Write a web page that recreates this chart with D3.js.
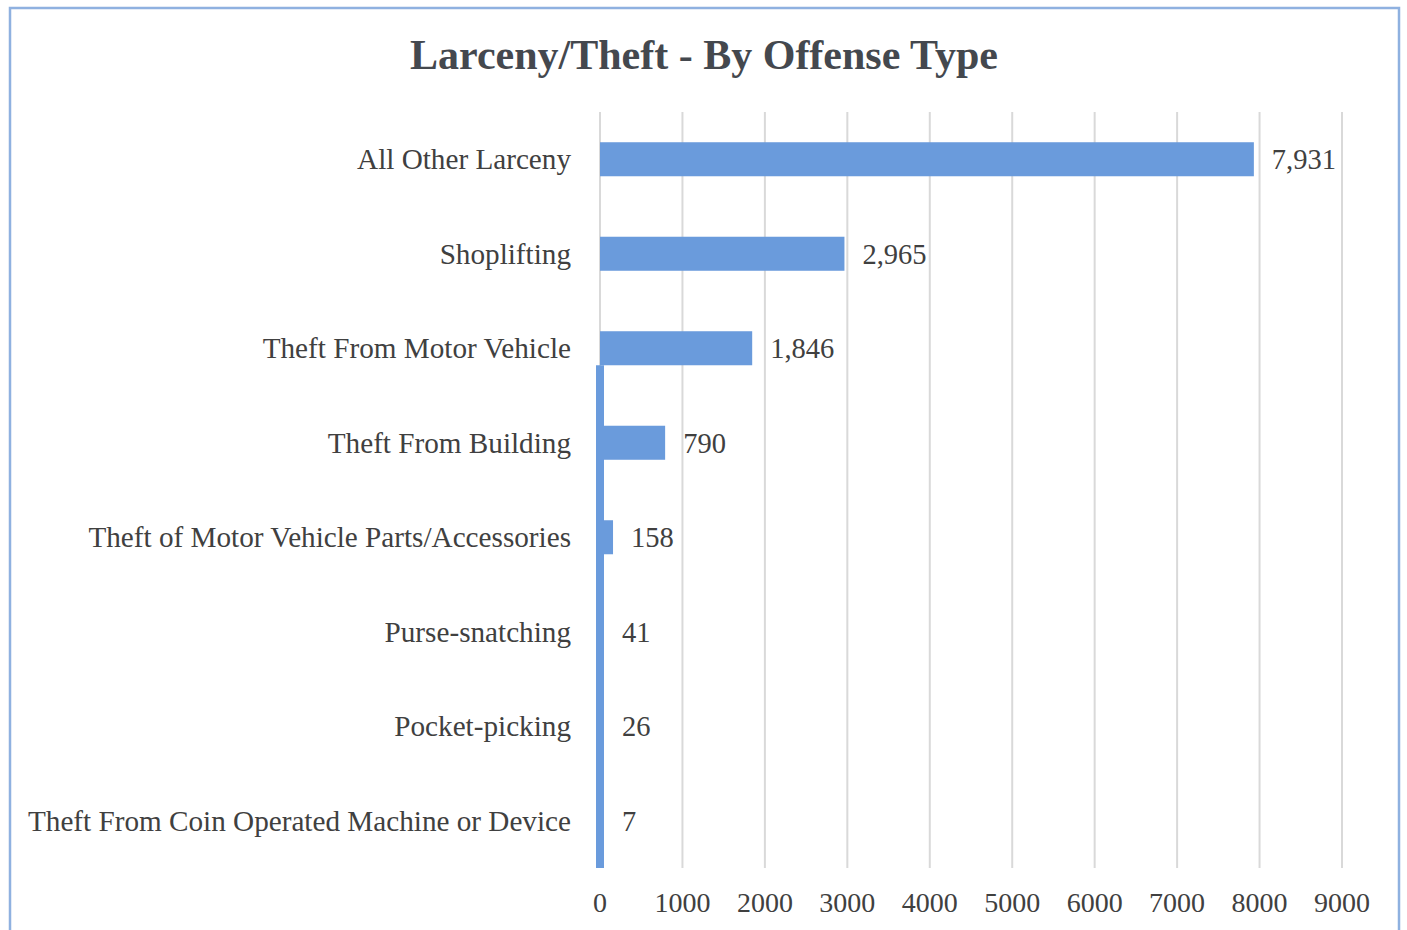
<!DOCTYPE html>
<html>
<head>
<meta charset="utf-8">
<script src="https://cdn.jsdelivr.net/npm/d3@7"></script>
<style>
	body { margin: 0; background: #fff; }
	svg { display: block; font-family: "Liberation Serif", "Times New Roman", serif; }
</style>
</head>
<body>
<svg id="chart"></svg>
<script>
// chart data
const categories = [
	"All Other Larceny",
	"Shoplifting",
	"Theft From Motor Vehicle",
	"Theft From Building",
	"Theft of Motor Vehicle Parts/Accessories",
	"Purse-snatching",
	"Pocket-picking",
	"Theft From Coin Operated Machine or Device"
];
const counts = [7931, 2965, 1846, 790, 158, 41, 26, 7];
const xTicks = [0, 1000, 2000, 3000, 4000, 5000, 6000, 7000, 8000, 9000];
const title = "Larceny/Theft - By Offense Type";

function renderBars() {
	let data = categories.map((c, i) => ({"category": c, "count": counts[i]}));

	let canvas = {"width": 1407,
		          "height": 930,
		          "marginLeft": 600,
		          "marginTop": 112,
		          "marginRight": 65,
		          "marginBottom": 62};

	const barColor = "#6a9bdc";
	const textColor = "#404040";

	const svg = d3.select("#chart")
		.attr("width", canvas.width)
		.attr("height", canvas.height);

	// frame round the chart
	svg.append("rect")
		.attr("x", 10)
		.attr("y", 8)
		.attr("width", 1389)
		.attr("height", 940)
		.attr("fill", "none")
		.attr("stroke", "#8fb1e0")
		.attr("stroke-width", 2.5);

	const xScale = d3.scaleLinear()
		.domain([0, 9000])
		.range([canvas.marginLeft, canvas.width - canvas.marginRight]);

	const yScale = d3.scaleBand()
		.domain(categories)
		.range([canvas.marginTop, canvas.height - canvas.marginBottom])
		.paddingInner(0.64)
		.paddingOuter(0.32);

	let plotBottom = canvas.height - canvas.marginBottom;

	// gridlines
	svg.selectAll(".grid")
		.data(xTicks)
		.join("line")
		.attr("class", "grid")
		.attr("x1", d => xScale(d))
		.attr("x2", d => xScale(d))
		.attr("y1", canvas.marginTop)
		.attr("y2", plotBottom)
		.attr("stroke", "#d9d9d9")
		.attr("stroke-width", 2);

	// x tick labels
	svg.selectAll(".xtick")
		.data(xTicks)
		.join("text")
		.attr("class", "xtick")
		.text(d => d)
		.attr("x", d => xScale(d))
		.attr("y", plotBottom + 44)
		.attr("text-anchor", "middle")
		.attr("font-size", 28)
		.attr("fill", textColor);

	// the scan shows a thin strip of bar colour along zero below the third bar
	let stripTop = yScale(categories[2]) + yScale.bandwidth();
	svg.append("rect")
		.attr("x", xScale(0) - 4)
		.attr("y", stripTop)
		.attr("width", 8)
		.attr("height", plotBottom - stripTop)
		.attr("fill", barColor);

	svg.selectAll(".bar")
		.data(data)
		.join("rect")
		.attr("class", "bar")
		.attr("x", xScale(0))
		.attr("y", d => yScale(d.category))
		.attr("width", d => xScale(d.count) - xScale(0))
		.attr("height", yScale.bandwidth())
		.attr("fill", barColor);

	// category labels
	svg.selectAll(".cat")
		.data(categories)
		.join("text")
		.attr("class", "cat")
		.text(d => d)
		.attr("x", canvas.marginLeft - 29)
		.attr("y", d => yScale(d) + yScale.bandwidth() / 2)
		.attr("dy", "0.35em")
		.attr("text-anchor", "end")
		.attr("font-size", 29.2)
		.attr("fill", textColor);

	// value labels
	svg.selectAll(".val")
		.data(data)
		.join("text")
		.attr("class", "val")
		.text(d => d3.format(",")(d.count))
		.attr("x", d => Math.max(xScale(d.count), xScale(0) + 4) + 18)
		.attr("y", d => yScale(d.category) + yScale.bandwidth() / 2)
		.attr("dy", "0.35em")
		.attr("font-size", 28.5)
		.attr("fill", textColor);

	svg.append("text")
		.text(title)
		.attr("x", 704)
		.attr("y", 69)
		.attr("text-anchor", "middle")
		.attr("font-size", 42)
		.attr("font-weight", "bold")
		.attr("fill", "#44484e");
}

renderBars();
</script>
</body>
</html>
